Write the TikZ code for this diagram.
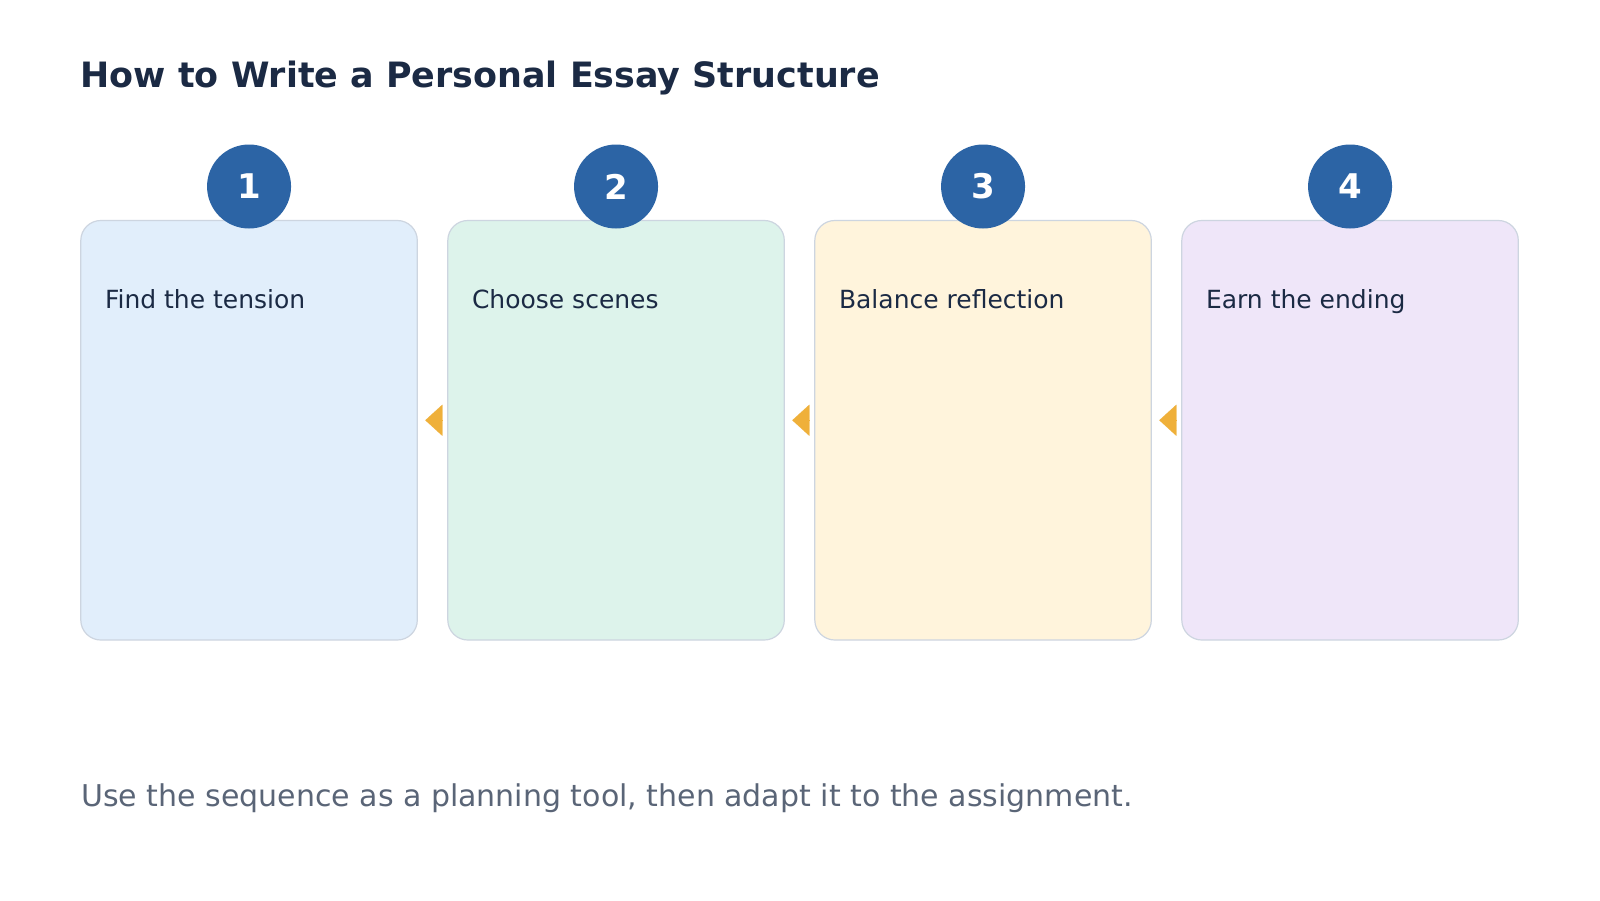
\documentclass[tikz,border=0pt]{standalone}
\usepackage{fontspec}
\setmainfont{DejaVu Sans}
\usepackage{tikz}
\usetikzlibrary{positioning, arrows.meta, calc}

\definecolor{titleink}{HTML}{1B2A44}
\definecolor{noteink}{HTML}{5A6577}
\definecolor{badgeblue}{HTML}{2C64A5}
\definecolor{edgegray}{HTML}{CDD5E0}
\definecolor{flowgold}{HTML}{EFB03A}
\definecolor{fillblue}{HTML}{E1EEFB}
\definecolor{fillmint}{HTML}{DDF3EB}
\definecolor{fillcream}{HTML}{FFF4DC}
\definecolor{filllilac}{HTML}{EFE6F9}

\begin{document}
\begin{tikzpicture}[
    x=1pt, y=-1pt,
    node distance=30.5pt,
    stage/.style={
        rectangle, rounded corners=20pt,
        minimum width=336.5pt, minimum height=419.5pt,
        draw=edgegray, line width=1.2pt, outer sep=0pt, inner sep=0pt
    },
    badge/.style={
        circle, fill=badgeblue, draw=none, minimum size=84pt,
        inner sep=0pt, text=white,
        font=\fontsize{34}{40}\selectfont\bfseries
    },
    stagelabel/.style={anchor=base west, text=titleink,
        font=\fontsize{25}{30}\selectfont, inner sep=0pt},
    backflow/.style={-{Triangle[length=17pt, width=31pt]}, flowgold,
        line width=0.1pt, shorten <=6pt, shorten >=8pt}
]

% canvas
\fill[white] (0,0) rectangle (1600,900);
\useasboundingbox (0,0) rectangle (1600,900);

% === Title ===
\node[anchor=base west, inner sep=0pt, text=titleink,
      font=\fontsize{34.9}{42}\selectfont\bfseries] (title) at (80.5,87.7)
    {How to Write a Personal Essay Structure};

% === Stages (left to right) ===
\node[stage, fill=fillblue, anchor=north west] (find) at (80.8,220.5) {};
\node[stage, fill=fillmint, right=of find] (scenes) {};
\node[stage, fill=fillcream, right=of scenes] (balance) {};
\node[stage, fill=filllilac, right=of balance] (ending) {};

% Stage texts
\node[stagelabel] (findtext) at ([xshift=24pt, yshift=-88pt]find.north west)
    {Find the tension};
\node[stagelabel] (scenestext) at ([xshift=24pt, yshift=-88pt]scenes.north west)
    {Choose scenes};
\node[stagelabel] (balancetext) at ([xshift=24pt, yshift=-88pt]balance.north west)
    {Balance reflection};
\node[stagelabel] (endingtext) at ([xshift=24pt, yshift=-88pt]ending.north west)
    {Earn the ending};

% Number badges
\node[badge] (n1) at ([yshift=34pt]find.north) {1};
\node[badge] (n2) at ([yshift=34pt]scenes.north) {2};
\node[badge] (n3) at ([yshift=34pt]balance.north) {3};
\node[badge] (n4) at ([yshift=34pt]ending.north) {4};

% Flow tips between stages
\draw[backflow] ([yshift=10pt]scenes.west) -- ([yshift=10pt]find.east);
\draw[backflow] ([yshift=10pt]balance.west) -- ([yshift=10pt]scenes.east);
\draw[backflow] ([yshift=10pt]ending.west) -- ([yshift=10pt]balance.east);

% === Footer note ===
\node[anchor=base west, inner sep=0pt, text=noteink,
      font=\fontsize{30}{36}\selectfont] (note) at (81,806.7)
    {Use the sequence as a planning tool, then adapt it to the assignment.};

\end{tikzpicture}
\end{document}
